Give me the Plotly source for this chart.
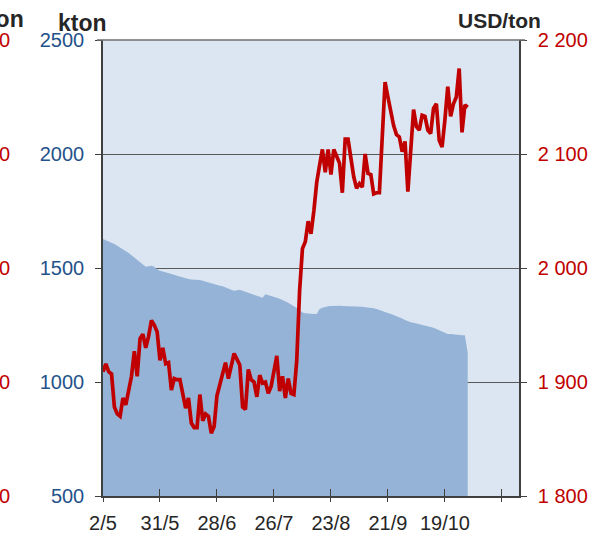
import plotly.graph_objects as go

# ---- data ----
tick_positions = [0, 20, 40, 60, 80, 100, 120, 140]
tick_labels = ["2/5", "31/5", "28/6", "26/7", "23/8", "21/9", "19/10", ""]

# price, USD/ton (right axis), one value per trading day
price = [
    1909, 1916, 1909, 1907, 1878, 1872, 1870, 1886, 1880, 1893,
    1905, 1927, 1905, 1938, 1942, 1930, 1940, 1954, 1950, 1944,
    1919, 1930, 1916, 1917, 1893, 1903, 1902, 1902, 1890, 1877,
    1886, 1864, 1860, 1860, 1889, 1866, 1872, 1870, 1855, 1861,
    1888, 1898, 1908, 1917, 1903, 1914, 1925, 1920, 1915, 1878,
    1876, 1911, 1902, 1900, 1887, 1906, 1899, 1900, 1890, 1896,
    1908, 1923, 1892, 1905, 1886, 1903, 1890, 1889, 1919, 1980,
    2017, 2023, 2041, 2030, 2050, 2075, 2090, 2104, 2084, 2104,
    2082, 2104, 2098, 2092, 2066, 2113, 2113, 2096, 2080, 2070,
    2074, 2071, 2100, 2083, 2082, 2065, 2066, 2066, 2115, 2163,
    2150, 2136, 2125, 2117, 2115, 2102, 2111, 2067, 2109, 2139,
    2124, 2121, 2134, 2133, 2121, 2118, 2140, 2144, 2112, 2106,
    2130, 2159, 2133, 2144, 2150, 2175, 2119, 2143, 2141,
]

# stocks, kton (left axis)
stocks = [
    1627, 1622, 1618, 1612, 1605, 1598, 1590, 1584, 1575, 1566,
    1556, 1546, 1536, 1525, 1515, 1506, 1508, 1510, 1505, 1494,
    1488, 1485, 1482, 1478, 1474, 1470, 1466, 1462, 1458, 1455,
    1452, 1450, 1449, 1451, 1447, 1444, 1440, 1436, 1432, 1428,
    1425, 1422, 1420, 1416, 1410, 1405, 1400, 1403, 1405, 1400,
    1396, 1393, 1389, 1385, 1380, 1375, 1370, 1385, 1382, 1378,
    1374, 1370, 1365, 1360, 1354, 1348, 1340, 1333, 1325, 1315,
    1305, 1302, 1300, 1300, 1298, 1298, 1320, 1326, 1330, 1332,
    1333, 1334, 1334, 1334, 1333, 1333, 1333, 1333, 1333, 1332,
    1331, 1330, 1328, 1327, 1325, 1323, 1320, 1316, 1312, 1308,
    1304, 1299, 1294, 1288, 1284, 1278, 1272, 1266, 1262, 1260,
    1257, 1254, 1251, 1248, 1245, 1243, 1238, 1232, 1226, 1220,
    1214, 1211, 1210, 1208, 1207, 1206, 1205, 1205, 1127,
]

left_ticks = [500, 1000, 1500, 2000, 2500]
right_ticks = [1800, 1900, 2000, 2100, 2200]
right_tick_labels = ["1 800", "1 900", "2 000", "2 100", "2 200"]

# ---- styling ----
W, H = 609, 534
ML, MR, MT, MB = 103, 90, 40, 38
PW, PH = W - ML - MR, H - MT - MB
FONT = "Liberation Sans, Arial, sans-serif"
RED = "#C00000"
BLUE_TXT = "#24528A"
AREA = "#95B3D7"
BG = "#DCE6F2"
DARK = "#404040"

x = list(range(len(price)))

fig = go.Figure()
fig.add_trace(go.Scatter(
    x=x, y=stocks, mode="lines", fill="tozeroy",
    fillcolor=AREA, line=dict(width=0, color=AREA),
    yaxis="y", hoverinfo="skip", showlegend=False))
fig.add_trace(go.Scatter(
    x=x, y=price, mode="lines", line=dict(width=3.7, color=RED),
    yaxis="y2", hoverinfo="skip", showlegend=False))
# helper trace so the inner tick axis is drawn
fig.add_trace(go.Scatter(
    x=[0], y=[500], mode="markers", marker=dict(opacity=0),
    xaxis="x2", yaxis="y", hoverinfo="skip", showlegend=False))


def px_x(p):
    return (p - ML) / PW


def px_y(p):
    return (MT + PH - p) / PH


annotations = [
    dict(text="<b>kton</b>", x=px_x(56), y=px_y(23), xref="paper", yref="paper",
         xanchor="left", yanchor="middle", showarrow=False,
         font=dict(family=FONT, size=23, color="#262626")),
    dict(text="<b>USD/ton</b>", x=px_x(456), y=px_y(21), xref="paper", yref="paper",
         xanchor="left", yanchor="middle", showarrow=False,
         font=dict(family=FONT, size=21, color="#262626")),
    dict(text="<b>USD/ton</b>", x=px_x(26), y=px_y(19), xref="paper", yref="paper",
         xanchor="right", yanchor="middle", showarrow=False,
         font=dict(family=FONT, size=23, color="#262626")),
]
for v in left_ticks:
    annotations.append(dict(
        text="0", x=px_x(12), y=(v - 500) / 2000, xref="paper", yref="paper",
        xanchor="right", yanchor="middle", showarrow=False,
        font=dict(family=FONT, size=20, color=RED)))

shapes = [
    # top gridline (2500) with its outer ticks on both sides
    dict(type="line", xref="paper", yref="paper",
         x0=px_x(97), x1=px_x(525), y0=1, y1=1,
         line=dict(color="#6f6f6f", width=1.6), layer="above"),
]

fig.update_layout(
    width=W, height=H,
    margin=dict(l=ML, r=MR, t=MT, b=MB, pad=0, autoexpand=False),
    paper_bgcolor="white", plot_bgcolor=BG,
    font=dict(family=FONT, size=20),
    xaxis=dict(range=[0, 146], tickvals=tick_positions, ticktext=tick_labels,
               ticks="outside", ticklen=4, tickwidth=1.3, tickcolor=DARK,
               showline=True, linecolor=DARK, linewidth=1.5,
               showgrid=False, zeroline=False, automargin=False,
               ticklabelstandoff=4,
               tickfont=dict(family=FONT, size=20, color="#262626")),
    xaxis2=dict(range=[0, 146], tickvals=tick_positions, overlaying="x",
                side="bottom", anchor="y",
                ticks="inside", ticklen=7, tickwidth=1.3, tickcolor=DARK,
                showticklabels=False, showline=False, showgrid=False,
                zeroline=False, automargin=False),
    yaxis=dict(range=[500, 2500], tickvals=left_ticks,
               ticks="outside", ticklen=6, tickwidth=1.3, tickcolor=DARK,
               showline=True, linecolor=DARK, linewidth=1.5,
               showgrid=True, gridcolor="#595959", gridwidth=1.3, zeroline=False,
               automargin=False, ticklabelstandoff=7,
               tickfont=dict(family=FONT, size=20, color=BLUE_TXT)),
    yaxis2=dict(range=[1800, 2200], tickvals=right_ticks, ticktext=right_tick_labels,
                overlaying="y", side="right",
                ticks="outside", ticklen=6, tickwidth=1.3, tickcolor=DARK,
                showline=True, linecolor=DARK, linewidth=1.5,
                showgrid=False, zeroline=False, automargin=False,
                ticklabelstandoff=7,
                tickfont=dict(family=FONT, size=20, color=RED)),
    annotations=annotations,
    shapes=shapes,
)

fig.write_html("out.html", config={"displayModeBar": False},
               post_script="document.body.style.margin='0';")
